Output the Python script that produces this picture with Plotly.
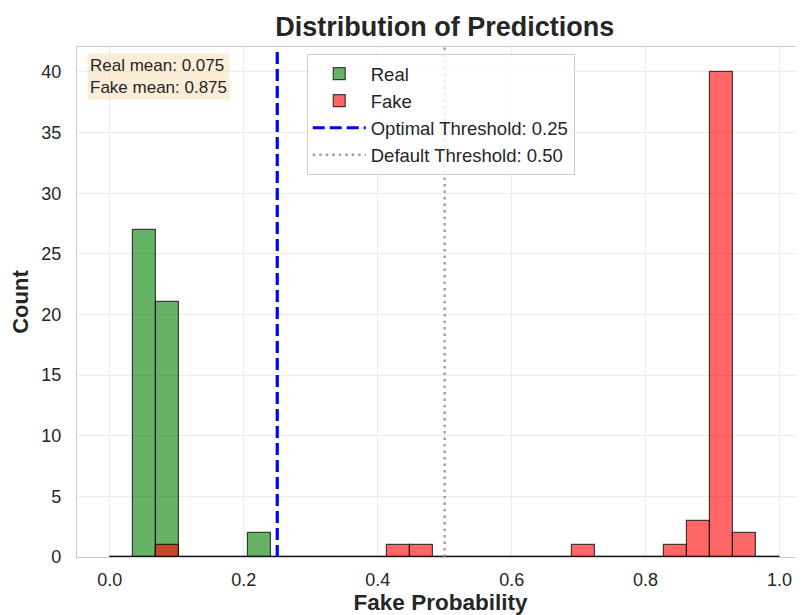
import numpy as np
import plotly.graph_objects as go

# ---- data ----
n_bins = 29
bin_edges = np.linspace(0.0, 1.0, n_bins + 1)
real_counts = [0, 27, 21, 0, 0, 0, 2, 0, 0, 0, 0, 0, 0, 0, 0,
               0, 0, 0, 0, 0, 0, 0, 0, 0, 0, 0, 0, 0, 0]
fake_counts = [0, 0, 1, 0, 0, 0, 0, 0, 0, 0, 0, 0, 1, 1, 0,
               0, 0, 0, 0, 0, 1, 0, 0, 0, 1, 3, 40, 2, 0]
real_mean = 0.075
fake_mean = 0.875
optimal_threshold = 0.25
default_threshold = 0.50
x_ticks = [0.0, 0.2, 0.4, 0.6, 0.8, 1.0]
y_ticks = [0, 5, 10, 15, 20, 25, 30, 35, 40]

centers = (bin_edges[:-1] + bin_edges[1:]) / 2
widths = np.diff(bin_edges)

FONT = "Arial, Liberation Sans, sans-serif"
TXT = "#262626"

# the page body has an 8px default margin, so the figure is sized to fill the rest
W, H = 796, 607

fig = go.Figure()
fig.add_trace(go.Bar(
    x=centers, y=real_counts, width=widths, name="Real",
    marker=dict(color="rgba(0,128,0,0.6)", line=dict(color="rgba(0,0,0,0.7)", width=1.2)),
))
fig.add_trace(go.Bar(
    x=centers, y=fake_counts, width=widths, name="Fake",
    marker=dict(color="rgba(255,0,0,0.6)", line=dict(color="rgba(0,0,0,0.7)", width=1.2)),
))

fig.add_shape(type="line", xref="x", yref="paper", x0=optimal_threshold, x1=optimal_threshold,
              y0=0, y1=1, line=dict(color="blue", width=3.2, dash="12px,5px"),
              name=f"Optimal Threshold: {optimal_threshold:.2f}", showlegend=True)
fig.add_shape(type="line", xref="x", yref="paper", x0=default_threshold, x1=default_threshold,
              y0=0, y1=1, line=dict(color="rgba(128,128,128,0.75)", width=2.5, dash="2.5px,4px"),
              name=f"Default Threshold: {default_threshold:.2f}", showlegend=True)

fig.add_annotation(
    xref="paper", yref="paper", x=0.0138, y=0.988, xanchor="left", yanchor="top",
    text=f"Real mean: {real_mean:.3f}<br>Fake mean: {fake_mean:.3f}",
    showarrow=False, align="left",
    font=dict(family=FONT, size=17, color=TXT),
    bgcolor="rgba(245,222,179,0.5)", borderpad=2,
)

fig.update_layout(
    width=W, height=H,
    margin=dict(l=69, r=0, t=39, b=58),
    paper_bgcolor="white", plot_bgcolor="white",
    barmode="overlay", bargap=0,
    font=dict(family=FONT, size=18, color=TXT),
    title=dict(text="<b>Distribution of Predictions</b>", x=0.506, xref="paper",
               y=1 - 19 / H, yref="container", xanchor="center", yanchor="middle",
               font=dict(family=FONT, size=27, color=TXT)),
    legend=dict(x=0.316, y=0.986, xanchor="left", yanchor="top",
                bgcolor="rgba(255,255,255,0.8)", bordercolor="#cccccc", borderwidth=1,
                font=dict(family=FONT, size=18.5, color=TXT), tracegroupgap=0,
                itemwidth=53),
    xaxis=dict(range=[-0.049, 1.0365], tickvals=x_ticks, tickformat=".1f",
               showgrid=True, gridcolor="#ebebeb", gridwidth=1, zeroline=False,
               showline=True, linecolor="#cccccc", linewidth=1.25, mirror=True,
               ticks="", ticklabelstandoff=6, automargin=False,
               tickfont=dict(family=FONT, size=18, color=TXT),
               title=dict(text="<b>Fake Probability</b>", font=dict(family=FONT, size=22.5, color=TXT),
                          standoff=4)),
    yaxis=dict(range=[0, 42.06], tickvals=y_ticks,
               showgrid=True, gridcolor="#ebebeb", gridwidth=1, zeroline=False,
               showline=True, linecolor="#cccccc", linewidth=1.25, mirror=True,
               ticks="", ticklabelstandoff=11, automargin=False,
               tickfont=dict(family=FONT, size=18, color=TXT),
               title=dict(text="<b>Count</b>", font=dict(family=FONT, size=22, color=TXT),
                          standoff=6)),
)

fig.write_html("out.html")
